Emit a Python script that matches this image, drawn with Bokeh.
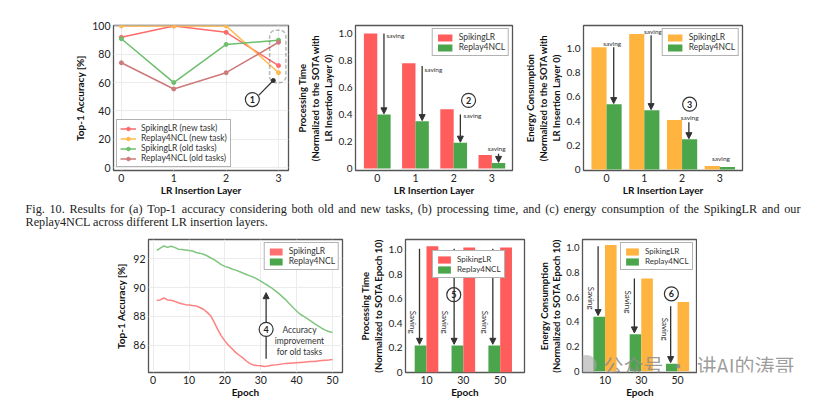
from bokeh.plotting import figure
from bokeh.layouts import column, row
from bokeh.models import (Range1d, FixedTicker, Label, Arrow, NormalHead, BoxAnnotation,
                          ColumnDataSource, CustomJSTickFormatter, Legend, LegendItem)
from bokeh.transform import dodge
from bokeh.core.properties import value
from bokeh.embed import file_html
from bokeh.resources import INLINE

# ---------------- data ----------------
layers = [0, 1, 2, 3]
layer_labels = ["0", "1", "2", "3"]
acc_spiking_new = [92.0, 100.0, 95.5, 72.0]
acc_replay_new = [100.0, 100.0, 100.0, 67.0]
acc_spiking_old = [91.0, 60.0, 87.0, 90.0]
acc_replay_old = [74.0, 55.5, 67.0, 88.5]

time_spiking = [1.00, 0.78, 0.44, 0.10]
time_replay = [0.40, 0.35, 0.19, 0.04]

energy_spiking = [1.01, 1.12, 0.41, 0.03]
energy_replay = [0.54, 0.49, 0.25, 0.02]

epochs = list(range(1, 51))
epoch_acc_spiking = [89.10, 89.15, 89.28, 89.15, 89.12, 89.05, 88.95, 88.88, 88.82, 88.80,
                     88.76, 88.73, 88.62, 88.50, 88.30, 88.05, 87.60, 87.10, 86.65, 86.30,
                     86.00, 85.75, 85.50, 85.30, 85.12, 84.90, 84.72, 84.62, 84.58, 84.57,
                     84.52, 84.55, 84.60, 84.63, 84.66, 84.70, 84.72, 84.74, 84.76, 84.78,
                     84.80, 84.82, 84.84, 84.86, 84.87, 84.90, 84.93, 84.95, 84.97, 85.00]
epoch_acc_replay = [92.60, 92.75, 92.90, 92.80, 92.88, 92.80, 92.68, 92.65, 92.62, 92.58,
                    92.55, 92.45, 92.40, 92.32, 92.22, 92.08, 91.95, 91.78, 91.60, 91.48,
                    91.40, 91.30, 91.22, 91.12, 91.02, 90.92, 90.82, 90.72, 90.60, 90.45,
                    90.30, 90.15, 89.98, 89.80, 89.60, 89.38, 89.15, 88.88, 88.62, 88.38,
                    88.15, 88.00, 87.85, 87.68, 87.50, 87.35, 87.18, 87.05, 86.95, 86.88]

epoch_cats = ["10", "30", "50"]
time_epoch_spiking = [1.03, 1.02, 1.02]
time_epoch_replay = [0.22, 0.22, 0.22]
energy_epoch_spiking = [1.02, 0.75, 0.56]
energy_epoch_replay = [0.44, 0.30, 0.06]

caption_line1 = ("Fig. 10. Results for (a) Top-1 accuracy considering both old and new tasks, "
                 "(b) processing time, and (c) energy consumption of the SpikingLR and our")
caption_line2 = "Replay4NCL across different LR insertion layers."
watermark = ["公众号 ·", "讲AI的涛哥"]

# ---------------- style ----------------
FONT = "Lato"
RED = "#ff5c5c"
GREEN = "#4ba64b"
ORANGE = "#ffb43f"
LRED = "#ff6b6b"
LORANGE = "#ffb84d"
LGREEN = "#6cbf6c"
BROWN = "#cc7a7a"
DARK = "#333333"
WM_COLOR = "#8c8c8c"
NAN = float("nan")

zero_fmt = CustomJSTickFormatter(code="return tick == 0 ? '0' : tick.toFixed(1);")

# Times-Roman advance widths (per 1000 em) used to justify the caption's first line
TIMES_W = {" ": 250, "(": 333, ")": 333, ",": 250, "-": 333, ".": 250,
           "A": 722, "C": 667, "F": 556, "I": 333, "L": 611, "N": 722, "R": 667, "S": 556,
           "T": 611, "a": 444, "b": 500, "c": 444, "d": 500, "e": 444, "f": 333, "g": 500,
           "h": 500, "i": 278, "k": 500, "l": 278, "m": 778, "n": 500, "o": 500, "p": 500,
           "r": 333, "s": 389, "t": 278, "u": 500, "v": 500, "w": 722, "y": 500}


def text_w(s, size):
    return sum(TIMES_W.get(ch, 500) for ch in s) * size / 1000.0


def base_fig(width, height, xr, yr, bl, br, bt, bb):
    p = figure(width=width, height=height, x_range=Range1d(*xr), y_range=Range1d(*yr),
               min_border_left=bl, min_border_right=br, min_border_top=bt, min_border_bottom=bb,
               output_backend="svg", toolbar_location=None)
    p.outline_line_color = "#555555"
    p.outline_line_width = 1.3
    p.grid.grid_line_color = "#ececec"
    for ax in p.axis:
        ax.axis_line_color = None
        ax.major_tick_line_color = None
        ax.minor_tick_line_color = None
        ax.major_tick_out = 0
        ax.major_tick_in = 0
        ax.minor_tick_out = 0
        ax.major_label_text_font = FONT
        ax.major_label_text_font_size = "10.5px"
        ax.major_label_text_color = "#222222"
        ax.axis_label_text_font = FONT
        ax.axis_label_text_font_style = "bold"
        ax.axis_label_text_font_size = "10px"
        ax.axis_label_text_color = "#111111"
        ax.major_label_standoff = 3
        ax.axis_label_standoff = 3
    p.xaxis.major_label_standoff = 3
    p.xaxis.axis_label_standoff = -1
    return p


def blank_fig(width, height, yspan=None):
    ys = height if yspan is None else yspan
    p = figure(width=width, height=height, x_range=Range1d(0, width), y_range=Range1d(ys, 0),
               min_border=0, output_backend="svg", toolbar_location=None)
    p.axis.visible = False
    p.grid.visible = False
    p.outline_line_color = None
    return p


def multi_ylabel(p, text, size="9.5px"):
    p.yaxis.axis_label = text
    p.yaxis.axis_label_text_font_size = size
    p.yaxis.axis_label_text_line_height = 1.15
    p.yaxis.axis_label_standoff = 2
    p.yaxis.major_label_text_font_size = "10px"


def style_legend(lg, loc, gw=20, fs="8.5px"):
    lg.location = loc
    lg.margin = 3
    lg.padding = 3
    lg.spacing = 0
    lg.label_text_font = FONT
    lg.label_text_font_size = fs
    lg.label_text_color = "#333333"
    lg.label_height = 10
    lg.glyph_height = 9
    lg.glyph_width = gw
    lg.label_standoff = 5
    lg.border_line_color = "#666666"
    lg.border_line_width = 1
    lg.background_fill_alpha = 1.0


def panel_tag(p, x, y, txt, size="13px"):
    p.add_layout(Label(x=x, y=y, text=txt, text_font=FONT, text_font_style="bold",
                       text_font_size=size, text_baseline="middle", text_align="left",
                       text_color="#111111"))


def circ_num(p, x, y, txt, size=14):
    p.scatter(x=[x], y=[y], size=size, fill_color="white", line_color=DARK, line_width=1.2)
    p.add_layout(Label(x=x, y=y, text=txt, text_font=FONT, text_font_style="bold",
                       text_font_size="9px", text_align="center", text_baseline="middle",
                       text_color="#222222"))


def arrow(p, x0, y0, x1, y1, under=False):
    a = Arrow(end=NormalHead(size=6, fill_color=DARK, line_color=DARK),
              x_start=x0, y_start=y0, x_end=x1, y_end=y1, line_color=DARK, line_width=1.3)
    if under:
        a.level = "underlay"
    p.add_layout(a)


def small_text(p, x, y, txt, size="6.5px", align="left", angle=0.0):
    p.add_layout(Label(x=x, y=y, text=txt, text_font=FONT, text_font_size=size,
                       text_align=align, text_baseline="middle", angle=angle,
                       text_color="#333333"))


# ================= TOP ROW =================
# (a) accuracy vs layer
pa = base_fig(292, 200, (-0.15, 3.19), (-2.1, 100.35), 113, 4, 25, 30)
src_a = ColumnDataSource(dict(x=layers, sn=acc_spiking_new, rn=acc_replay_new,
                              so=acc_spiking_old, ro=acc_replay_old))
for col, color, lab in [("sn", LRED, "SpikingLR (new task)"),
                        ("rn", LORANGE, "Replay4NCL (new task)"),
                        ("so", LGREEN, "SpikingLR (old tasks)"),
                        ("ro", BROWN, "Replay4NCL (old tasks)")]:
    pa.line("x", col, source=src_a, line_color=color, line_width=1.5, legend_label=lab)
    pa.scatter("x", col, source=src_a, size=4, color=color, legend_label=lab)
pa.xaxis.ticker = FixedTicker(ticks=layers)
pa.xaxis.major_label_overrides = {i: s for i, s in zip(layers, layer_labels)}
pa.yaxis.ticker = FixedTicker(ticks=[0, 20, 40, 60, 80, 100])
pa.xaxis.axis_label = "LR Insertion Layer"
pa.yaxis.axis_label = "Top-1 Accuracy [%]"
style_legend(pa.legend[0], "bottom_left", gw=16)
pa.add_layout(BoxAnnotation(left=2.83, right=3.14, bottom=60, top=97, fill_alpha=0,
                            line_color="#222222", line_width=1.6, line_dash="4 2",
                            border_radius=6))
pa.segment(x0=[2.62], y0=[51], x1=[2.9], y1=[61.5], line_color=DARK, line_width=1.2)
pa.scatter(x=[2.9], y=[61.5], size=4, color=DARK)
circ_num(pa, 2.5, 48, "1")
panel_tag(pa, -0.78, -11.5, "(a)")

# (b) processing time vs layer
pb = base_fig(230, 200, (-0.57, 3.54), (-0.015, 1.06), 63, 10, 25, 30)
src_b = ColumnDataSource(dict(x=layers, s=time_spiking, r=time_replay))
pb.vbar(x=dodge("x", -0.175, range=pb.x_range), top="s", width=0.35, source=src_b,
        fill_color=RED, line_color=None, legend_label="SpikingLR")
pb.vbar(x=dodge("x", 0.175, range=pb.x_range), top="r", width=0.35, source=src_b,
        fill_color=GREEN, line_color=None, legend_label="Replay4NCL")
pb.grid.grid_line_color = None
pb.xaxis.ticker = FixedTicker(ticks=layers)
pb.xaxis.major_label_overrides = {i: s for i, s in zip(layers, layer_labels)}
pb.yaxis.ticker = FixedTicker(ticks=[0, 0.2, 0.4, 0.6, 0.8, 1.0])
pb.yaxis.formatter = zero_fmt
pb.xaxis.axis_label = "LR Insertion Layer"
multi_ylabel(pb, "Processing Time\n(Normalized to the SOTA with\nLR Insertion Layer 0)")
style_legend(pb.legend[0], "top_right", gw=18)
arr_b_start = [1.0, 0.76, 0.40, 0.11]
sav_b = [(0.24, 0.985), (1.235, 0.733), (2.26, 0.395), (2.89, 0.147)]
for i, x in enumerate(layers):
    arrow(pb, x + 0.175, arr_b_start[i], x + 0.175, time_replay[i] + 0.005)
    small_text(pb, sav_b[i][0], sav_b[i][1], "saving")
circ_num(pb, 2.39, 0.505, "2")
panel_tag(pb, -2.0, -0.12, "(b)")

# (c) energy vs layer
pc = base_fig(309, 200, (-0.61, 3.6), (-0.008, 1.19), 61, 89, 25, 30)
src_c = ColumnDataSource(dict(x=layers, s=energy_spiking, r=energy_replay))
pc.vbar(x=dodge("x", -0.2, range=pc.x_range), top="s", width=0.4, source=src_c,
        fill_color=ORANGE, line_color=None, legend_label="SpikingLR")
pc.vbar(x=dodge("x", 0.2, range=pc.x_range), top="r", width=0.4, source=src_c,
        fill_color=GREEN, line_color=None, legend_label="Replay4NCL")
pc.grid.grid_line_color = None
pc.xaxis.ticker = FixedTicker(ticks=layers)
pc.xaxis.major_label_overrides = {i: s for i, s in zip(layers, layer_labels)}
pc.yaxis.ticker = FixedTicker(ticks=[0, 0.2, 0.4, 0.6, 0.8, 1.0])
pc.yaxis.formatter = zero_fmt
pc.xaxis.axis_label = "LR Insertion Layer"
multi_ylabel(pc, "Energy Consumption\n(Normalized to the SOTA with\nLR Insertion Layer 0)")
style_legend(pc.legend[0], "top_right", gw=18)
arr_c = [(0.19, 1.01), (1.18, 1.11), (2.18, 0.39), None]
sav_c = [(0.15, 1.04), (1.23, 1.14), (2.2, 0.43), (3.03, 0.09)]
for i, x in enumerate(layers):
    if arr_c[i] is not None:
        arrow(pc, arr_c[i][0], arr_c[i][1], arr_c[i][0], energy_replay[i] + 0.005)
    small_text(pc, sav_c[i][0], sav_c[i][1], "saving", align="center")
circ_num(pc, 2.2, 0.54, "3")
panel_tag(pc, -2.01, -0.18, "(c)")

# ================= CAPTION =================
CAP_SIZE = 12.2
cap = blank_fig(831, 32)
words = caption_line1.split(" ")
widths = [text_w(w, CAP_SIZE) for w in words]
x_left, x_right = 25.0, 800.0
gap = (x_right - x_left - sum(widths)) / (len(words) - 1)
xs, cur = [], x_left
for w in widths:
    xs.append(cur)
    cur += w + gap
cap.text(x=xs + [x_left], y=[8] * len(words) + [21], text=words + [caption_line2],
         text_align="left", text_font=value("Liberation Serif"),
         text_font_size=f"{CAP_SIZE}px", text_baseline="middle", text_color="#222222")

# ================= BOTTOM ROW =================
# (a) accuracy vs epoch
qa = base_fig(352, 170, (-1.3, 52.8), (84.1, 93.35), 148, 10, 7, 30)
src_qa = ColumnDataSource(dict(e=epochs, s=epoch_acc_spiking, r=epoch_acc_replay))
qa.line("e", "s", source=src_qa, line_color="#ff8080", line_width=1.5)
qa.line("e", "r", source=src_qa, line_color="#80c680", line_width=1.5)
leg_s = qa.quad(left=[NAN], right=[NAN], top=[NAN], bottom=[NAN], fill_color="#ff7070",
                line_color=None)
leg_r = qa.quad(left=[NAN], right=[NAN], top=[NAN], bottom=[NAN], fill_color=GREEN,
                line_color=None)
lga = Legend(items=[LegendItem(label="SpikingLR", renderers=[leg_s]),
                    LegendItem(label="Replay4NCL", renderers=[leg_r])])
qa.add_layout(lga)
style_legend(lga, "top_right", gw=16)
qa.xaxis.ticker = FixedTicker(ticks=[0, 10, 20, 30, 40, 50])
qa.yaxis.ticker = FixedTicker(ticks=[84, 86, 88, 90, 92])
qa.xaxis.axis_label = "Epoch"
qa.yaxis.axis_label = "Top-1 Accuracy [%]"
arrow(qa, 31.5, 85.05, 31.5, 89.65, under=True)
circ_num(qa, 31.5, 87.1, "4")
for yy, t in [(87.05, "Accuracy"), (86.3, "improvement"), (85.55, "for old tasks")]:
    small_text(qa, 40.8, yy, t, size="8.5px", align="center")
panel_tag(qa, -8.8, 82.84, "(a)")

# (b) processing time vs epoch
ep_idx = list(range(len(epoch_cats)))
qb = base_fig(180, 170, (-0.57, 2.66), (0.0, 1.085), 53, 8, 7, 30)
src_qb = ColumnDataSource(dict(x=ep_idx, s=time_epoch_spiking, r=time_epoch_replay))
rb_g = qb.vbar(x=dodge("x", -0.16, range=qb.x_range), top="r", width=0.32, source=src_qb,
               fill_color=GREEN, line_color=None)
rb_r = qb.vbar(x=dodge("x", 0.16, range=qb.x_range), top="s", width=0.32, source=src_qb,
               fill_color=RED, line_color=None)
lgb = Legend(items=[LegendItem(label="SpikingLR", renderers=[rb_r]),
                    LegendItem(label="Replay4NCL", renderers=[rb_g])])
qb.add_layout(lgb)
style_legend(lgb, (27, 94), gw=16, fs="8px")
qb.grid.grid_line_color = None
qb.xaxis.ticker = FixedTicker(ticks=ep_idx)
qb.xaxis.major_label_overrides = {i: s for i, s in zip(ep_idx, epoch_cats)}
qb.yaxis.ticker = FixedTicker(ticks=[0, 0.2, 0.4, 0.6, 0.8, 1.0])
qb.yaxis.formatter = zero_fmt
qb.xaxis.axis_label = "Epoch"
multi_ylabel(qb, "Processing Time\n(Normalized to SOTA Epoch 10)")
arr_qb_x = [-0.19, -0.25, -0.2]
sav_qb_x = [-0.38, -0.5, -0.4]
for i in ep_idx:
    arrow(qb, i + arr_qb_x[i], 1.01, i + arr_qb_x[i], time_epoch_replay[i] + 0.01)
    small_text(qb, i + sav_qb_x[i], 0.41, "Saving", size="8px", align="center", angle=-1.5708)
circ_num(qb, 0.74, 0.635, "5")
panel_tag(qb, -1.96, -0.125, "(b)")

# (c) energy vs epoch
qc = base_fig(165, 170, (-0.62, 2.55), (-0.01, 1.065), 50, 0, 7, 30)
src_qc = ColumnDataSource(dict(x=ep_idx, s=energy_epoch_spiking, r=energy_epoch_replay))
rc_g = qc.vbar(x=dodge("x", -0.16, range=qc.x_range), top="r", width=0.32, source=src_qc,
               fill_color=GREEN, line_color=None)
rc_o = qc.vbar(x=dodge("x", 0.16, range=qc.x_range), top="s", width=0.32, source=src_qc,
               fill_color=ORANGE, line_color=None)
lgc = Legend(items=[LegendItem(label="SpikingLR", renderers=[rc_o]),
                    LegendItem(label="Replay4NCL", renderers=[rc_g])])
qc.add_layout(lgc)
style_legend(lgc, (38, 102), gw=16, fs="8px")
qc.grid.grid_line_color = None
qc.xaxis.ticker = FixedTicker(ticks=ep_idx)
qc.xaxis.major_label_overrides = {i: s for i, s in zip(ep_idx, epoch_cats)}
qc.yaxis.ticker = FixedTicker(ticks=[0, 0.2, 0.4, 0.6, 0.8, 1.0])
qc.yaxis.formatter = zero_fmt
qc.xaxis.axis_label = "Epoch"
multi_ylabel(qc, "Energy Consumption\n(Normalized to SOTA Epoch 10)")
qc.yaxis.major_label_text_font_size = "9.5px"
qc.yaxis.axis_label_standoff = 1
arr_qc_start = [1.01, 0.75, 0.525]
sav_qc = [(-0.39, 0.59), (0.64, 0.56), (1.65, 0.34)]
for i in ep_idx:
    arrow(qc, i - 0.19, arr_qc_start[i], i - 0.19, energy_epoch_replay[i] + 0.01)
    small_text(qc, sav_qc[i][0], sav_qc[i][1], "Saving", size="8px", align="center",
               angle=-1.5708)
circ_num(qc, 1.83, 0.626, "6")
panel_tag(qc, -1.78, -0.12, "(c)")
# watermark (icon bubble + text), first part over panel (c)
qc.scatter(x=[-0.5], y=[0.05], size=20, fill_color="#a8a8a8", line_color=None, fill_alpha=0.6)
qc.text(x=[-0.04], y=[0.047], text=[watermark[0]], text_font=value("Noto Sans CJK SC"),
        text_font_size="20px", text_baseline="middle", text_align="left",
        text_color=WM_COLOR, text_alpha=0.85)

# right-hand strip holding the rest of the watermark (its frame lines up with the row's
# plot frames, which span 133 px)
wm = blank_fig(134, 170, yspan=133)
wm.text(x=[-1], y=[126], text=[watermark[1]], text_font=value("Noto Sans CJK SC"),
        text_font_size="20px", text_baseline="middle", text_align="left",
        text_color=WM_COLOR, text_alpha=0.85)

layout = column(row(pa, pb, pc), cap, row(qa, qb, qc, wm))
open("out.html", "w").write(file_html(layout, INLINE))
